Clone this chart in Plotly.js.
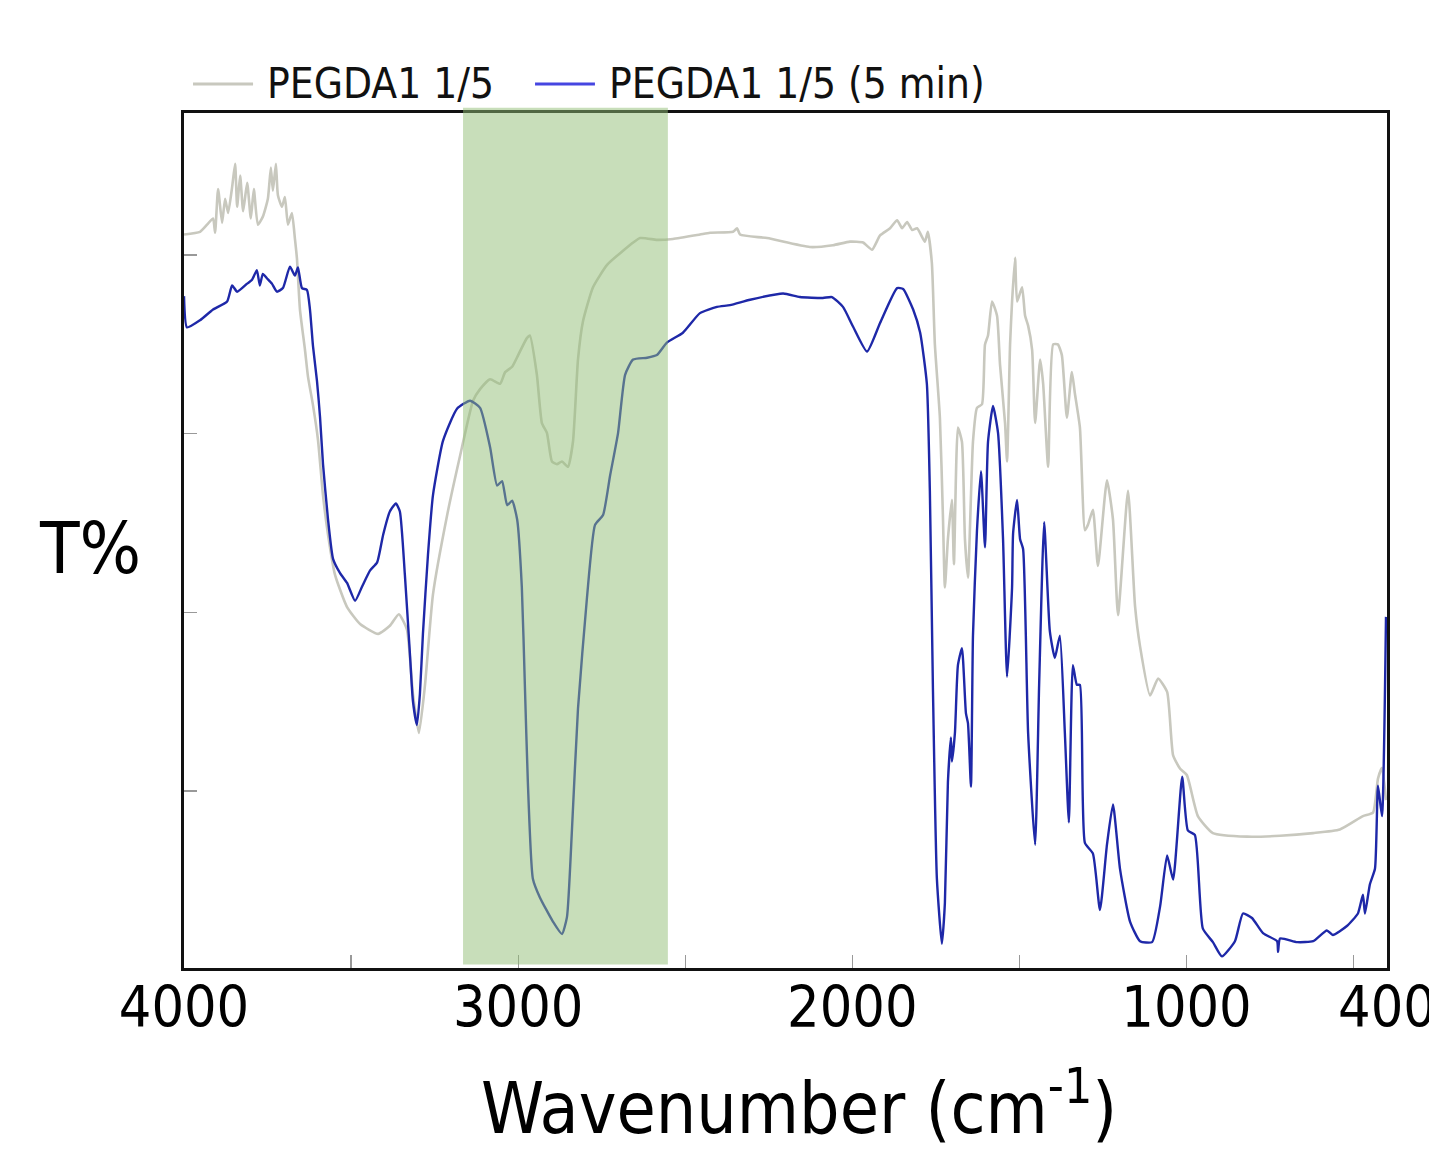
<!DOCTYPE html>
<html>
<head>
<meta charset="utf-8">
<script src="https://cdn.plot.ly/plotly-3.0.1.min.js"></script>
<style>
html,body{margin:0;padding:0;background:#fff;}
#chart{width:1429px;height:1152px;}
</style>
</head>
<body>
<div id="chart"></div>
<script>
// ---- data ----
const wnGray = [4000,3952,3931,3913,3907,3898,3886,3877,3868,3856,3847,3841,3832,3823,3811,3800,3791,3779,3764,3749,3740,3734,3725,3719,3707,3698,3689,3677,3668,3662,3653,3638,3629,3614,3599,3584,3569,3548,3512,3473,3419,3384,3357,3333,3315,3297,3279,3255,3213,3174,3135,3114,3084,3054,3039,3018,3000,2974,2965,2944,2929,2914,2899,2884,2869,2851,2836,2821,2806,2776,2734,2695,2635,2585,2537,2456,2426,2357,2345,2336,2255,2127,2058,2007,1968,1941,1917,1887,1866,1851,1836,1821,1806,1783,1774,1762,1753,1738,1729,1723,1714,1702,1696,1684,1672,1663,1654,1639,1627,1612,1603,1594,1582,1567,1558,1543,1537,1528,1522,1513,1507,1492,1483,1474,1462,1453,1438,1429,1414,1399,1385,1373,1358,1343,1334,1319,1304,1295,1280,1265,1238,1220,1205,1175,1154,1139,1109,1085,1058,1040,1019,999,966,921,819,720,621,541,472,442,427,415,403];
const tGray = [82.3,82.6,83.4,84.1,82.5,87.4,83.6,86.3,84.7,87.6,90.2,85.4,88.9,84.9,88.1,84.1,87.4,83.4,84.3,86.3,89.8,87.2,90.2,86.7,85.4,86.5,83.4,84.7,81.8,79.6,73.9,69.4,66.4,63.2,59.3,53.1,48.7,44.2,40.6,38.7,37.6,38.5,39.8,38.1,30.9,26.5,31.8,42.0,50.8,57.5,63.7,65.0,66.1,65.6,66.9,67.5,68.8,70.7,71.0,66.6,61.2,60.1,56.9,56.6,56.9,56.3,59.1,68.3,72.6,76.4,78.9,80.2,81.9,81.7,81.8,82.3,82.5,82.6,83.0,82.3,81.9,80.9,81.1,81.5,81.4,80.6,82.2,83.0,83.9,83.0,83.7,82.8,83.0,81.5,82.6,79.1,70.0,61.8,50.9,42.8,48.2,52.6,45.4,60.7,59.1,48.2,43.9,59.1,62.9,63.3,70.0,71.0,74.8,73.2,67.7,61.2,56.9,70.0,74.8,79.7,74.8,76.4,73.2,72.1,69.4,61.2,68.3,65.6,56.3,70.0,70.0,68.8,61.8,66.9,64.5,60.7,49.2,49.8,51.5,45.2,54.8,50.4,39.7,53.6,40.7,36.2,30.7,32.6,31.1,24.0,22.5,21.8,17.2,15.3,14.9,15.0,15.3,15.7,17.2,17.6,21.4,22.6,19.0];

const wnBlue = [4000,3991,3952,3913,3871,3856,3841,3811,3797,3782,3773,3764,3752,3737,3722,3704,3683,3668,3659,3647,3632,3623,3614,3602,3593,3584,3569,3554,3533,3512,3488,3467,3443,3422,3404,3384,3366,3354,3339,3324,3315,3303,3294,3285,3270,3255,3225,3183,3144,3114,3084,3063,3048,3033,3018,3003,2989,2980,2971,2956,2935,2896,2869,2854,2839,2821,2794,2770,2746,2725,2701,2680,2656,2614,2585,2555,2507,2456,2405,2366,2306,2207,2157,2088,2061,2028,1998,1956,1917,1866,1848,1818,1797,1777,1768,1759,1747,1732,1723,1714,1705,1702,1693,1684,1672,1660,1654,1645,1639,1627,1615,1603,1594,1579,1564,1549,1537,1522,1519,1507,1498,1489,1474,1453,1441,1426,1409,1394,1379,1364,1352,1340,1328,1319,1304,1280,1259,1238,1220,1199,1169,1139,1103,1079,1058,1040,1013,996,975,951,921,894,855,831,804,771,729,726,720,669,621,580,562,520,487,472,466,451,436,427,415,403];
const tBlue = [75.4,71.9,72.7,73.9,74.8,76.6,75.9,76.8,77.2,78.3,76.6,77.9,77.4,76.8,75.9,76.3,78.7,77.7,78.6,76.3,76.1,73.9,69.8,65.9,61.9,56.6,50.4,46.0,44.4,43.3,41.3,42.9,44.7,45.6,48.7,51.3,52.2,51.3,44.2,35.4,30.1,27.4,30.9,37.6,46.4,53.1,59.2,62.8,63.7,62.9,58.5,54.2,54.7,52.0,52.5,50.4,42.8,31.9,21.0,10.2,8.1,5.4,4.0,5.9,15.7,29.2,41.7,49.8,50.9,55.3,60.1,66.6,68.3,68.5,68.8,70.2,71.3,73.5,74.2,74.4,75.0,75.7,75.3,75.2,75.3,74.2,72.0,69.2,72.4,76.3,76.2,73.9,71.3,65.6,53.6,31.9,10.2,2.9,7.5,21.0,26.0,23.3,26.5,34.1,36.0,28.7,27.6,20.5,37.4,49.2,55.8,47.3,59.1,63.1,60.1,48.2,32.8,42.8,48.8,52.6,48.2,47.1,26.5,14.0,31.9,50.1,37.9,34.9,37.4,26.5,16.5,34.1,31.9,31.9,14.2,13.0,6.7,14.0,18.5,11.3,5.4,3.2,3.1,7.1,12.8,10.1,21.6,15.6,15.1,4.6,3.1,1.5,3.2,6.3,5.8,4.1,3.2,2.0,3.5,3.1,3.2,4.4,3.9,4.9,6.3,8.4,6.3,9.6,11.3,20.6,17.2,39.5];

const seriesNames = ['PEGDA1 1/5', 'PEGDA1 1/5 (5 min)'];
const xTickVals = [4000,3000,2000,1000,400];
const xTickText = ['4000','3000','2000','1000','400'];
const xMinorTickVals = [3500,2500,1500,500];
const yTickVals = [20,40,60,80];
const bandRange = [3165, 2552];   // highlighted C-H region (cm-1)

// ---- styling ----
const FONT = '"DejaVu Sans Condensed", "DejaVu Sans", Verdana, sans-serif';
const grayColor = 'rgb(200,200,190)';
const blueColor = 'rgb(30,40,168)';

const traces = [
  {x: wnGray, y: tGray, type: 'scatter', mode: 'lines', name: seriesNames[0],
   line: {color: grayColor, width: 2.6, shape: 'spline', smoothing: 0.5}, showlegend: false},
  {x: wnBlue, y: tBlue, type: 'scatter', mode: 'lines', name: seriesNames[1],
   line: {color: blueColor, width: 2.4, shape: 'spline', smoothing: 0.5}, showlegend: false}
];

const legY = 1.034;
const layout = {
  width: 1429, height: 1152,
  margin: {l: 184, r: 42, t: 113, b: 184, pad: 0},
  paper_bgcolor: '#fff', plot_bgcolor: '#fff',
  font: {family: FONT, color: '#000'},
  showlegend: false,
  xaxis: {
    range: [4000, 400], autorange: false,
    tickmode: 'array', tickvals: xTickVals, ticktext: xTickText,
    ticks: 'inside', ticklen: 13, tickwidth: 1.2, tickcolor: '#999',
    ticklabeloverflow: 'allow', ticklabelstandoff: -12,
    tickfont: {family: FONT, size: 57, color: '#000'},
    minor: {tickmode: 'array', tickvals: xMinorTickVals, ticks: 'inside', ticklen: 13, tickwidth: 1.2, tickcolor: '#999', showgrid: false},
    showgrid: false, zeroline: false,
    showline: true, linecolor: '#111', linewidth: 2.6, mirror: true
  },
  yaxis: {
    range: [0.2, 95.9], autorange: false,
    tickmode: 'array', tickvals: yTickVals, showticklabels: false,
    ticks: 'inside', ticklen: 13, tickwidth: 1.2, tickcolor: '#999',
    showgrid: false, zeroline: false,
    showline: true, linecolor: '#111', linewidth: 2.6, mirror: true
  },
  shapes: [
    {type: 'rect', xref: 'x', yref: 'paper', x0: bandRange[0], x1: bandRange[1], y0: 0.004, y1: 1.006,
     fillcolor: 'rgb(145,189,117)', opacity: 0.5, line: {width: 0}, layer: 'above'},
    // manual legend samples
    {type: 'line', xref: 'paper', yref: 'paper', x0: 0.0075, x1: 0.0574, y0: legY, y1: legY,
     line: {color: grayColor, width: 3}},
    {type: 'line', xref: 'paper', yref: 'paper', x0: 0.2918, x1: 0.3416, y0: legY, y1: legY,
     line: {color: 'rgb(70,70,225)', width: 3}}
  ],
  annotations: [
    {text: seriesNames[0], xref: 'paper', yref: 'paper', x: 0.0673, y: legY,
     xanchor: 'left', yanchor: 'middle', showarrow: false,
     font: {family: FONT, size: 42, color: '#111'}},
    {text: seriesNames[1], xref: 'paper', yref: 'paper', x: 0.3516, y: legY,
     xanchor: 'left', yanchor: 'middle', showarrow: false,
     font: {family: FONT, size: 42, color: '#111'}},
    {text: 'T%', xref: 'paper', yref: 'paper', x: -0.078, y: 0.491,
     xanchor: 'center', yanchor: 'middle', showarrow: false,
     font: {family: FONT, size: 72, color: '#000'}},
    {text: 'Wavenumber (cm<sup>-1</sup>)', xref: 'paper', yref: 'paper', x: 0.511, y: -0.158,
     xanchor: 'center', yanchor: 'middle', showarrow: false,
     font: {family: FONT, size: 71, color: '#000'}}
  ]
};

Plotly.newPlot('chart', traces, layout, {displayModeBar: false, staticPlot: true});
</script>
</body>
</html>
